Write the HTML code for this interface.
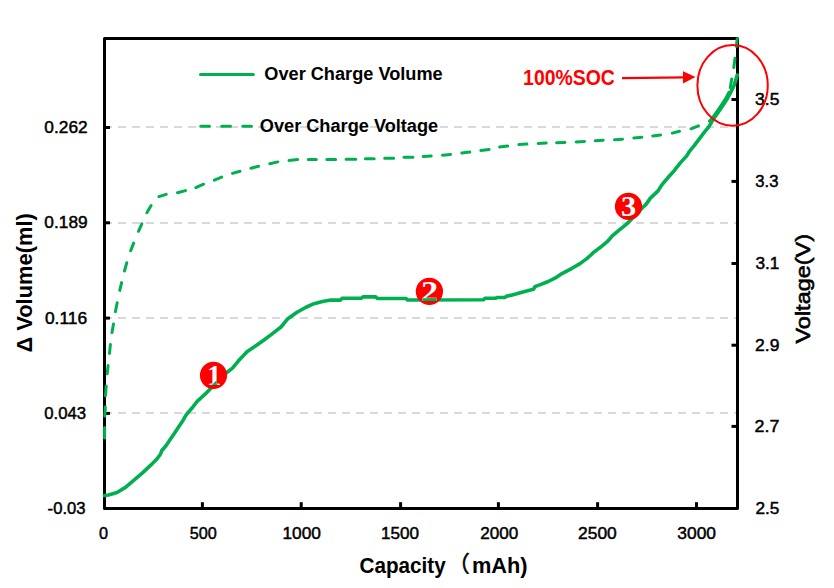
<!DOCTYPE html>
<html><head><meta charset="utf-8"><title>Over Charge Volume and Voltage</title>
<style>html,body{margin:0;padding:0;background:#fff;width:834px;height:588px;overflow:hidden}svg{display:block}</style>
</head><body>
<svg width="834" height="588" viewBox="0 0 834 588">
<rect width="834" height="588" fill="#fff"/>
<line x1="104" y1="127" x2="736" y2="127" stroke="#D9D9D9" stroke-width="2" stroke-dasharray="8 6"/>
<line x1="104" y1="222.9" x2="736" y2="222.9" stroke="#D9D9D9" stroke-width="2" stroke-dasharray="8 6"/>
<line x1="104" y1="317.9" x2="736" y2="317.9" stroke="#D9D9D9" stroke-width="2" stroke-dasharray="8 6"/>
<line x1="104" y1="412.9" x2="736" y2="412.9" stroke="#D9D9D9" stroke-width="2" stroke-dasharray="8 6"/>
<rect x="104.5" y="38.5" width="633.0" height="470.0" fill="none" stroke="#000" stroke-width="3" stroke-linejoin="round"/>
<line x1="105" y1="127.5" x2="110" y2="127.5" stroke="#000" stroke-width="3"/>
<line x1="105" y1="222.8" x2="110" y2="222.8" stroke="#000" stroke-width="3"/>
<line x1="105" y1="318.1" x2="110" y2="318.1" stroke="#000" stroke-width="3"/>
<line x1="105" y1="413.4" x2="110" y2="413.4" stroke="#000" stroke-width="3"/>
<line x1="731.5" y1="99.5" x2="737" y2="99.5" stroke="#000" stroke-width="3"/>
<line x1="731.5" y1="181.4" x2="737" y2="181.4" stroke="#000" stroke-width="3"/>
<line x1="731.5" y1="263.5" x2="737" y2="263.5" stroke="#000" stroke-width="3"/>
<line x1="731.5" y1="345.2" x2="737" y2="345.2" stroke="#000" stroke-width="3"/>
<line x1="731.5" y1="426.4" x2="737" y2="426.4" stroke="#000" stroke-width="3"/>
<line x1="202.4" y1="502.2" x2="202.4" y2="508" stroke="#000" stroke-width="3"/>
<line x1="301.2" y1="502.2" x2="301.2" y2="508" stroke="#000" stroke-width="3"/>
<line x1="400.6" y1="502.2" x2="400.6" y2="508" stroke="#000" stroke-width="3"/>
<line x1="498.4" y1="502.2" x2="498.4" y2="508" stroke="#000" stroke-width="3"/>
<line x1="597.6" y1="502.2" x2="597.6" y2="508" stroke="#000" stroke-width="3"/>
<line x1="696.5" y1="502.2" x2="696.5" y2="508" stroke="#000" stroke-width="3"/>
<path d="M104.6 437.9L104.6 427.6M104.8 416.1L105.3 407.1M105.5 395.7L106.2 386.0M107.2 373.8L108.1 365.6M109.5 353.4L110.4 344.4M112.0 332.5L113.5 324.0M115.4 311.7L117.2 302.7M119.8 290.4L121.6 282.6M124.5 271.0L126.8 262.7M130.7 250.8L133.6 243.1M138.5 231.3L141.8 223.9M146.9 212.7L151.1 205.5M158.9 196.6L166.2 194.4M177.5 192.7L185.5 190.6M195.9 187.6L203.5 184.2M214.4 180.1L221.6 177.1M232.5 173.4L240.0 171.3M251.0 168.3L258.5 166.2M269.8 163.7L277.8 161.9M289.0 160.4L297.5 159.6M308.3 159.5L316.3 159.5M326.8 159.5L335.6 159.5M346.1 159.2L355.8 159.2M365.4 158.8L374.2 158.8M384.7 158.2L393.6 158.2M404.0 157.2L412.9 157.2M423.2 156.4L431.2 156.0M442.5 155.2L450.5 154.5M461.8 153.1L469.8 152.1M480.8 150.4L489.1 149.4M499.6 147.0L507.6 146.0M518.9 144.6L526.9 144.1M538.2 143.4L546.2 143.1M556.6 142.7L564.9 142.4M576.2 141.9L584.4 141.4M595.2 140.7L603.2 140.2M614.5 139.7L622.5 139.2M633.8 137.9L641.8 137.3M652.7 135.9L660.6 134.9M672.3 133.1L679.5 131.3M691.0 128.8L698.4 125.8M730.3 87.6L731.7 79.0M733.8 67.5L735.0 58.3M736.3 46.3L737.2 38.8M709.4 121.2L712.3 118L719.5 107.8L725.3 99.2L729 92.2" fill="none" stroke="#00B050" stroke-width="3" stroke-linecap="round"/>
<polyline id="vol" points="104.4,495.5 108.5,495.0 117.0,492.5 125.5,487.4 134.0,480.2 142.5,472.9 151.0,464.9 156.9,459.0 160.6,454.0 161.7,450.7 165.8,446.0 170.7,438.8 174.8,432.7 178.9,426.5 183.0,420.4 185.7,415.6 188.4,412.2 192.5,407.5 196.6,402.0 198.8,399.8 207.0,392.3 226.5,372.7 232.5,368.1 238.5,360.8 247.0,351.8 255.5,345.9 264.0,340.0 272.5,333.6 281.0,327.0 286.8,319.9 288.5,318.3 297.0,312.3 305.5,307.5 314.0,303.7 322.5,301.5 331.0,300.0 340.5,300.1 342.0,298.3 361.5,298.3 363.0,296.9 375.8,296.9 377.3,298.4 406.0,298.5 407.5,300.0 483.5,299.8 485.0,298.3 495.5,298.3 497.0,297.5 505.0,297.4 506.5,296.3 512.2,294.9 519.4,293.0 526.6,291.0 533.5,289.3 535.0,286.6 541.0,284.4 548.2,281.5 555.4,277.9 562.0,273.6 572.0,268.3 580.0,263.6 586.8,258.6 590.9,255.0 593.6,252.4 600.4,247.3 607.2,241.7 612.0,236.2 618.8,230.3 625.6,224.8 629.0,221.8 641.9,208.2 646.0,204.4 650.4,198.1 658.3,190.6 660.3,187.2 662.7,183.8 668.5,177.0 674.6,170.2 680.1,163.1 686.9,155.6 688.9,152.2 694.4,145.4 699.5,138.6 704.6,131.8 708.7,127.0 713.5,118.9 720.7,108.7 726.5,100.1 730.5,92.7 734.2,85.3 737.2,75.0" fill="none" stroke="#00B050" stroke-width="3.6" stroke-linejoin="round" stroke-linecap="round"/>
<line x1="200.5" y1="74.5" x2="253.3" y2="74.5" stroke="#00B050" stroke-width="3" stroke-linecap="round"/>
<path d="M200.7 126.3H209.5M221.7 126.3H230.5M242.7 126.3H251.5" stroke="#00B050" stroke-width="3" stroke-linecap="round"/>
<text x="87.60" y="133.20" font-family='"Liberation Sans", Arial, sans-serif' font-size="15.80" text-anchor="end" fill="#000" stroke="#000" stroke-width="0.45" textLength="43.21" lengthAdjust="spacingAndGlyphs">0.262</text>
<text x="87.60" y="228.30" font-family='"Liberation Sans", Arial, sans-serif' font-size="15.80" text-anchor="end" fill="#000" stroke="#000" stroke-width="0.45" textLength="43.21" lengthAdjust="spacingAndGlyphs">0.189</text>
<text x="87.10" y="323.90" font-family='"Liberation Sans", Arial, sans-serif' font-size="15.80" text-anchor="end" fill="#000" stroke="#000" stroke-width="0.45" textLength="42.16" lengthAdjust="spacingAndGlyphs">0.116</text>
<text x="86.00" y="419.20" font-family='"Liberation Sans", Arial, sans-serif' font-size="15.80" text-anchor="end" fill="#000" stroke="#000" stroke-width="0.45" textLength="41.77" lengthAdjust="spacingAndGlyphs">0.043</text>
<text x="85.50" y="514.10" font-family='"Liberation Sans", Arial, sans-serif' font-size="15.80" text-anchor="end" fill="#000" stroke="#000" stroke-width="0.45" textLength="37.88" lengthAdjust="spacingAndGlyphs">-0.03</text>
<text x="755.10" y="104.70" font-family='"Liberation Sans", Arial, sans-serif' font-size="15.80" fill="#000" stroke="#000" stroke-width="0.45" textLength="24.33" lengthAdjust="spacingAndGlyphs">3.5</text>
<text x="755.30" y="187.10" font-family='"Liberation Sans", Arial, sans-serif' font-size="15.80" fill="#000" stroke="#000" stroke-width="0.45" textLength="23.08" lengthAdjust="spacingAndGlyphs">3.3</text>
<text x="755.50" y="269.40" font-family='"Liberation Sans", Arial, sans-serif' font-size="15.80" fill="#000" stroke="#000" stroke-width="0.45" textLength="23.92" lengthAdjust="spacingAndGlyphs">3.1</text>
<text x="755.10" y="351.00" font-family='"Liberation Sans", Arial, sans-serif' font-size="15.80" fill="#000" stroke="#000" stroke-width="0.45" textLength="24.33" lengthAdjust="spacingAndGlyphs">2.9</text>
<text x="754.60" y="432.20" font-family='"Liberation Sans", Arial, sans-serif' font-size="15.80" fill="#000" stroke="#000" stroke-width="0.45" textLength="24.81" lengthAdjust="spacingAndGlyphs">2.7</text>
<text x="755.40" y="513.80" font-family='"Liberation Sans", Arial, sans-serif' font-size="15.80" fill="#000" stroke="#000" stroke-width="0.45" textLength="23.92" lengthAdjust="spacingAndGlyphs">2.5</text>
<text x="103.60" y="539.20" font-family='"Liberation Sans", Arial, sans-serif' font-size="15.80" text-anchor="middle" fill="#000" stroke="#000" stroke-width="0.45" textLength="9.05" lengthAdjust="spacingAndGlyphs">0</text>
<text x="203.30" y="539.20" font-family='"Liberation Sans", Arial, sans-serif' font-size="15.80" text-anchor="middle" fill="#000" stroke="#000" stroke-width="0.45" textLength="27.07" lengthAdjust="spacingAndGlyphs">500</text>
<text x="301.70" y="538.80" font-family='"Liberation Sans", Arial, sans-serif' font-size="15.80" text-anchor="middle" fill="#000" stroke="#000" stroke-width="0.45" textLength="38.51" lengthAdjust="spacingAndGlyphs">1000</text>
<text x="400.10" y="538.80" font-family='"Liberation Sans", Arial, sans-serif' font-size="15.80" text-anchor="middle" fill="#000" stroke="#000" stroke-width="0.45" textLength="38.06" lengthAdjust="spacingAndGlyphs">1500</text>
<text x="499.20" y="538.80" font-family='"Liberation Sans", Arial, sans-serif' font-size="15.80" text-anchor="middle" fill="#000" stroke="#000" stroke-width="0.45" textLength="38.08" lengthAdjust="spacingAndGlyphs">2000</text>
<text x="597.40" y="538.80" font-family='"Liberation Sans", Arial, sans-serif' font-size="15.80" text-anchor="middle" fill="#000" stroke="#000" stroke-width="0.45" textLength="38.69" lengthAdjust="spacingAndGlyphs">2500</text>
<text x="696.70" y="539.00" font-family='"Liberation Sans", Arial, sans-serif' font-size="15.80" text-anchor="middle" fill="#000" stroke="#000" stroke-width="0.45" textLength="38.69" lengthAdjust="spacingAndGlyphs">3000</text>
<text x="264.30" y="79.50" font-family='"Liberation Sans", Arial, sans-serif' font-size="18.80" font-weight="bold" fill="#000" textLength="178.36" lengthAdjust="spacingAndGlyphs">Over Charge Volume</text>
<text x="259.80" y="131.80" font-family='"Liberation Sans", Arial, sans-serif' font-size="18.80" font-weight="bold" fill="#000" textLength="178.36" lengthAdjust="spacingAndGlyphs">Over Charge Voltage</text>
<text transform="translate(31.50 352.60) rotate(-90)" font-family='"Liberation Sans", Arial, sans-serif' font-size="22.23" font-weight="bold" fill="#000" textLength="139.44" lengthAdjust="spacingAndGlyphs">Δ Volume(ml)</text>
<text transform="translate(810.00 343.50) rotate(-90)" font-family='"Liberation Sans", Arial, sans-serif' font-size="20.67" fill="#000" stroke="#000" stroke-width="0.6" textLength="109.58" lengthAdjust="spacingAndGlyphs">Voltage(V)</text>
<text x="523.10" y="85.40" font-family='"Liberation Sans", Arial, sans-serif' font-size="22.74" font-weight="bold" fill="#FF0000" textLength="91.65" lengthAdjust="spacingAndGlyphs">100%SOC</text>
<text font-family='"Liberation Sans", "Noto Sans CJK SC", sans-serif' fill="#000"><tspan x="359.50" y="572.60" font-size="21.50" font-weight="bold" textLength="86.25" lengthAdjust="spacingAndGlyphs">Capacity</tspan><tspan x="447.60" y="572.10" font-size="22.33" stroke="#000" stroke-width="0.5" textLength="22.38" lengthAdjust="spacingAndGlyphs">（</tspan><tspan x="471.90" y="572.60" font-size="21.50" font-weight="bold" textLength="55.68" lengthAdjust="spacingAndGlyphs">mAh)</tspan></text>
<path d="M622 78.2L684 77.4" stroke="#FF0000" stroke-width="2.2"/>
<path d="M683 71.2L695.5 77.1L683 83.6Z" fill="#FF0000"/>
<ellipse cx="732.6" cy="85.4" rx="35.2" ry="40.3" fill="none" stroke="#FF0000" stroke-width="2"/>
<circle cx="213.5" cy="375.3" r="13.6" fill="#FF0000"/>
<text x="214" y="384.9" font-family='"Liberation Serif", serif' font-size="28.5" font-weight="bold" text-anchor="middle" fill="#fff">1</text>
<clipPath id="mk0"><text x="214" y="384.9" font-family='"Liberation Serif", serif' font-size="28.5" font-weight="bold" text-anchor="middle">1</text></clipPath>
<use href="#vol" clip-path="url(#mk0)"/>
<circle cx="429.4" cy="291.4" r="13.6" fill="#FF0000"/>
<text x="429.6" y="300.6" font-family='"Liberation Serif", serif' font-size="28.5" font-weight="bold" text-anchor="middle" textLength="17.2" lengthAdjust="spacingAndGlyphs" fill="#fff">2</text>
<clipPath id="mk1"><text x="429.6" y="300.6" font-family='"Liberation Serif", serif' font-size="28.5" font-weight="bold" text-anchor="middle" textLength="17.2" lengthAdjust="spacingAndGlyphs">2</text></clipPath>
<use href="#vol" clip-path="url(#mk1)"/>
<circle cx="628.5" cy="206.4" r="13.6" fill="#FF0000"/>
<text x="628.5" y="216.3" font-family='"Liberation Serif", serif' font-size="28.5" font-weight="bold" text-anchor="middle" textLength="15.2" lengthAdjust="spacingAndGlyphs" fill="#fff">3</text>
<clipPath id="mk2"><text x="628.5" y="216.3" font-family='"Liberation Serif", serif' font-size="28.5" font-weight="bold" text-anchor="middle" textLength="15.2" lengthAdjust="spacingAndGlyphs">3</text></clipPath>
<use href="#vol" clip-path="url(#mk2)"/>
</svg>
</body></html>
